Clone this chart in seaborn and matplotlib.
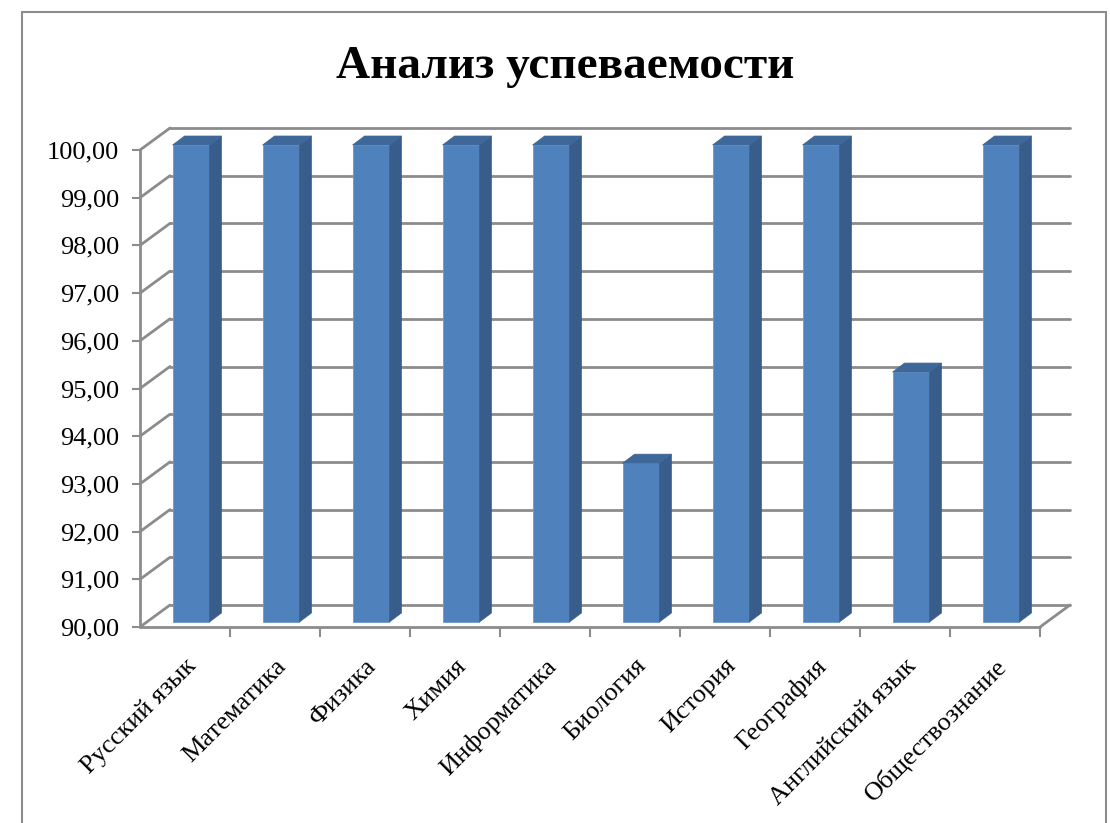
import numpy as np
import matplotlib
matplotlib.use("Agg")
import matplotlib.pyplot as plt
from matplotlib.patches import Polygon
from matplotlib.lines import Line2D
from matplotlib.ticker import FuncFormatter
import seaborn as sns

# Data
subjects = ["Русский язык", "Математика", "Физика", "Химия", "Информатика",
            "Биология", "История", "География", "Английский язык", "Обществознание"]
scores = [100.00, 100.00, 100.00, 100.00, 100.00, 93.33, 100.00, 100.00, 95.24, 100.00]
y_ticks = np.arange(90, 101, 1)

# Colours / 3D look
front_col = "#4f81bd"
side_col = "#385d8a"
top_col = "#3e679a"
grid_col = "#8c8c8c"
wall_dx, wall_dy = 30, 22      # depth of the back wall, px
bar_dx, bar_dy = 6, 5          # front face of bars sits a bit inside
bar_depth_dx, bar_depth_dy = 12, 9

sns.set_theme(style="white")
plt.rcParams["font.family"] = ["Liberation Serif", "DejaVu Serif"]

W, H = 1110, 823
fig = plt.figure(figsize=(W / 100, H / 100), dpi=100)
ax = fig.add_axes([140 / W, (H - 627) / H, 900 / W, 477 / H])

sns.barplot(x=subjects, y=scores, color=front_col, saturation=1, width=0.41,
            ax=ax, zorder=3)
ax.set_ylim(90, 100)
ax.set_xlim(-0.5, len(subjects) - 0.5)
for s in ax.spines.values():
    s.set_visible(False)

fig.canvas.draw()
to_px = ax.transData.transform


def px_poly(pts, **kw):
    p = Polygon(pts, closed=True, transform=None, **kw)
    fig.add_artist(p)
    return p


def px_line(xs, ys, **kw):
    fig.add_artist(Line2D(xs, ys, transform=None, **kw))


# back wall gridlines + left diagonals
x0, x1 = ax.get_xlim()
for v in y_ticks:
    (lx, ly), (rx, ry) = to_px([(x0, v), (x1, v)])
    px_line([lx, lx + wall_dx], [ly, ly + wall_dy], color=grid_col, lw=2, zorder=1)
    px_line([lx + wall_dx, rx + wall_dx], [ly + wall_dy, ry + wall_dy],
            color=grid_col, lw=2, zorder=1)

# floor front edge, right diagonal, value axis
(lx, ly), (rx, ry) = to_px([(x0, 90), (x1, 90)])
px_line([lx, rx], [ly, ry], color=grid_col, lw=2, zorder=1)
px_line([rx, rx + wall_dx], [ry, ry + wall_dy], color=grid_col, lw=2, zorder=1)
px_line([lx, lx], [ly, to_px((x0, 100))[1]], color=grid_col, lw=2, zorder=1)

# bars: redraw each seaborn bar from axis minimum with side/top faces
for patch, val in zip(ax.patches, scores):
    bx = patch.get_x()
    bw = patch.get_width()
    (fx0, fy0), (fx1, fy1) = to_px([(bx, 90), (bx + bw, val)])
    fx0 += bar_dx; fx1 += bar_dx; fy0 += bar_dy; fy1 += bar_dy
    patch.set_visible(False)
    px_poly([(fx0, fy0), (fx1, fy0), (fx1, fy1), (fx0, fy1)],
            facecolor=front_col, edgecolor="#6f98c8", lw=0.6, zorder=4)
    px_poly([(fx1, fy0), (fx1 + bar_depth_dx, fy0 + bar_depth_dy),
             (fx1 + bar_depth_dx, fy1 + bar_depth_dy), (fx1, fy1)],
            facecolor=side_col, edgecolor=side_col, lw=0.5, zorder=4)
    px_poly([(fx0, fy1), (fx1, fy1), (fx1 + bar_depth_dx, fy1 + bar_depth_dy),
             (fx0 + bar_depth_dx, fy1 + bar_depth_dy)],
            facecolor=top_col, edgecolor=top_col, lw=0.5, zorder=4)

# ticks
ax.set_yticks(y_ticks)
ax.yaxis.set_major_formatter(FuncFormatter(lambda v, _: f"{v:.2f}".replace(".", ",")))
ax.tick_params(axis="y", left=True, length=6, width=1.5, color=grid_col,
               labelsize=19, pad=9, labelcolor="black")
ax.set_xticks(np.arange(len(subjects)))
ax.set_xticklabels(subjects, rotation=45, ha="right", rotation_mode="anchor",
                   fontsize=19, color="black")
ax.tick_params(axis="x", bottom=False, length=0, pad=20)
ax.set_xticks(np.arange(x0, x1 + 0.01, 1)[1:], minor=True)
ax.tick_params(axis="x", which="minor", bottom=True, length=7, width=1.5,
               color=grid_col)
ax.set_xlabel("")
ax.set_ylabel("")
ax.patch.set_alpha(0)

fig.text(0.509, 1 - 67 / H, "Анализ успеваемости", ha="center", va="center",
         fontsize=34, fontweight="bold", color="black")

# chart border
border = dict(color="#8c8c8c", lw=1.5, transform=fig.transFigure)
fig.add_artist(Line2D([22 / W, 22 / W], [0, 1 - 12 / H], **border))
fig.add_artist(Line2D([22 / W, 1106 / W], [1 - 12 / H, 1 - 12 / H], **border))
fig.add_artist(Line2D([1106 / W, 1106 / W], [0, 1 - 12 / H], **border))

fig.savefig("out.png", dpi=100, facecolor="white")
